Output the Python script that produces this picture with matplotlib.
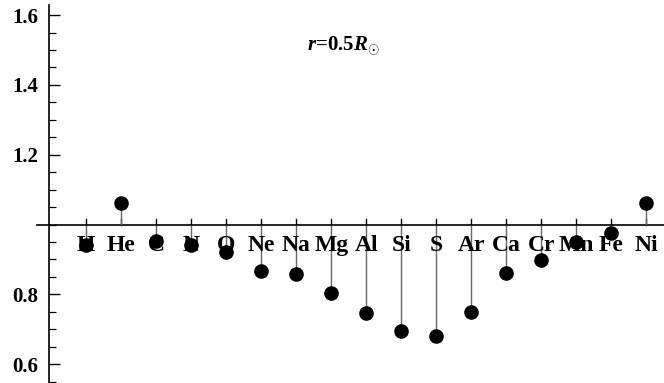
import numpy as np
import matplotlib.pyplot as plt

plt.rcParams['font.family'] = ['Liberation Serif', 'DejaVu Serif']
plt.rcParams['font.weight'] = 'bold'
plt.rcParams['mathtext.fontset'] = 'custom'
plt.rcParams['mathtext.rm'] = 'Liberation Serif:bold'
plt.rcParams['mathtext.it'] = 'Liberation Serif:italic:bold'

# abundance ratios at r = 0.5 R_sun
elements = ['H', 'He', 'C', 'N', 'O', 'Ne', 'Na', 'Mg', 'Al', 'Si', 'S',
            'Ar', 'Ca', 'Cr', 'Mn', 'Fe', 'Ni']
ratios = [0.940, 1.062, 0.952, 0.940, 0.922, 0.866, 0.857, 0.804, 0.746,
          0.694, 0.680, 0.750, 0.862, 0.898, 0.951, 0.976, 1.061]
yticks = [0.6, 0.8, 1.2, 1.4, 1.6]

x = np.arange(1, len(elements) + 1)

fig = plt.figure(figsize=(6.64, 3.83), dpi=100)
ax = fig.add_axes([49/664, 0, 615/664, 378/383])

ax.vlines(x, 1.0, ratios, color='0.4', lw=1.0, zorder=2)
ax.plot(x, ratios, 'o', color='black', markersize=9.5, zorder=3)

ax.set_xlim(-0.06, 17.5)
ax.set_ylim(0.546, 1.629)

# horizontal axis through 1.0, sticking out a bit left of the y axis
ax.plot([-0.4, 17.5], [1.0, 1.0], color='black', lw=1.2, clip_on=False, zorder=1)
for xi in x:
    ax.plot([xi, xi], [1.0, 1.017], color='black', lw=1.0, zorder=1)
for xi, name in zip(x, elements):
    ax.text(xi, 0.939, name, ha='center', va='center', fontsize=17,
            fontweight='bold', zorder=4)

ax.spines['top'].set_visible(False)
ax.spines['right'].set_visible(False)
ax.spines['bottom'].set_visible(False)
ax.spines['left'].set_linewidth(1.2)

ax.set_xticks([])
ax.set_yticks(yticks)
ax.set_yticklabels([f'{v:.1f}' for v in yticks], fontsize=15, fontweight='bold')
ax.set_yticks(np.arange(0.55, 1.62, 0.05), minor=True)
ax.tick_params(axis='y', which='major', direction='in', length=8, width=1.0, pad=8)
ax.tick_params(axis='y', which='minor', direction='in', length=5, width=0.9)

ax.text(8.35, 1.51, r'$r$=0.5$R_{\odot}$', ha='center', va='center', fontsize=15)

plt.savefig('out.png', dpi=100)
